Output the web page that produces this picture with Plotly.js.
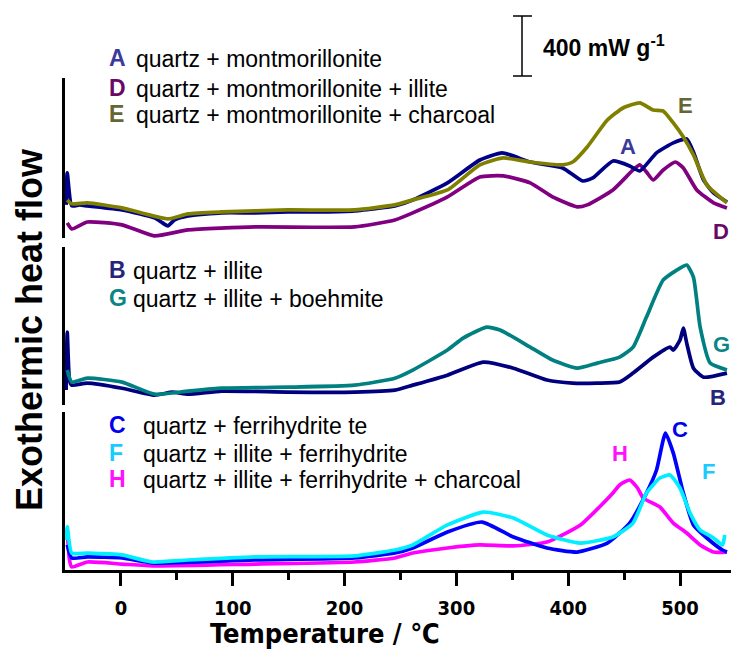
<!DOCTYPE html>
<html>
<head>
<meta charset="utf-8">
<script src="https://cdn.plot.ly/plotly-3.0.1.min.js"></script>
<style>html,body{margin:0;padding:0;background:#fff}#chart{width:731px;height:649px}</style>
</head>
<body>
<div id="chart"></div>
<script>
// Temperatures (°C) and heat flow (mW g-1, relative to panel baseline)
const T_A = [-49,-48,-44,-37,-30,1,30,36,42,48,60,90,120,149,180,209,232,245,261,292,321,341,366,395,413,422,440,455,464,479,494,506,512,521,530,542];
const A   = [228,449,221,228,221,193,138,110,83,124,152,173,173,179,179,186,207,221,262,380,538,587,524,483,393,414,531,497,462,587,656,683,593,400,311,248];
const T_E = [-48,-44,-30,1,42,60,90,149,209,245,261,292,321,342,366,395,404,417,435,449,464,476,485,494,503,512,524,542];
const E   = [262,235,242,207,131,166,179,193,193,228,262,331,504,552,524,504,524,628,814,897,932,883,876,794,697,573,366,242];
const T_D = [-48,-44,-30,1,30,60,120,209,245,261,292,321,342,366,386,408,417,440,458,464,470,476,485,496,503,515,530,542];
const D   = [104,62,110,90,14,55,76,76,124,173,283,421,428,380,283,214,228,331,469,504,455,400,469,524,483,331,242,207];
const T_B = [-49,-48,-46,-44,-30,1,30,46,60,90,149,209,245,261,292,324,351,381,404,426,446,458,476,491,494,500,503,506,512,521,542];
const B   = [104,504,173,138,152,117,69,90,76,97,90,90,104,138,207,297,255,173,152,152,159,221,331,400,380,449,531,428,255,193,221];
const T_G = [-48,-44,-30,1,30,60,90,149,209,245,261,292,306,327,339,366,386,408,426,446,458,470,485,500,506,512,518,527,542];
const G   = [242,159,186,159,76,97,117,124,138,186,242,380,462,538,518,400,311,255,290,331,400,607,863,945,966,883,538,290,242];
const T_C = [-48,-44,-30,1,30,120,209,245,261,292,323,351,381,408,435,455,470,479,487,494,503,512,524,538,542];
const C   = [173,83,90,83,48,69,83,117,152,262,331,228,152,124,186,324,531,690,945,807,531,311,221,138,124];
const T_F = [-49,-48,-44,-30,1,28,60,120,209,245,261,292,324,351,381,411,440,458,470,482,491,500,509,518,530,538,540];
const F   = [207,297,117,117,104,55,69,90,97,138,173,311,400,359,242,186,228,324,531,635,656,566,393,276,221,173,242];
const T_H = [-48,-46,-44,-30,1,30,120,209,245,261,292,321,351,381,411,428,440,446,455,462,467,482,494,506,518,530,542];
const H   = [276,69,21,55,41,28,41,55,83,117,152,173,166,193,311,435,531,587,621,566,497,435,324,255,173,124,124];

const xTicks = [0,100,200,300,400,500];
const legendLetters = ['A','D','E','B','G','C','F','H'];
const legendTexts = ['quartz + montmorillonite','quartz + montmorillonite + illite','quartz + montmorillonite + charcoal',
  'quartz + illite','quartz + illite + boehmite',
  'quartz + ferrihydrite te','quartz + illite + ferrihydrite','quartz + illite + ferrihydrite + charcoal'];
const scaleText = '400 mW g<sup>-1</sup>';

const lineCol = {A:'#000088',D:'#800080',E:'#808000',B:'#00007f',G:'#008080',C:'#0000ff',F:'#00eeff',H:'#ff00ff'};
const letCol  = {A:'#3a3a9a',D:'#680868',E:'#666633',B:'#25257a',G:'#0a8585',C:'#0000ee',F:'#18ccff',H:'#ff10ff'};

function tr(x,y,ya,k){return {x:x,y:y,yaxis:ya,xaxis:'x',type:'scatter',mode:'lines',
  line:{color:lineCol[k],width:3.7,shape:'spline',smoothing:0.5},hoverinfo:'skip',showlegend:false};}
const data = [
  tr(T_D,D,'y','D'), tr(T_A,A,'y','A'), tr(T_E,E,'y','E'),
  tr(T_B,B,'y2','B'), tr(T_G,G,'y2','G'),
  tr(T_H,H,'y3','H'), tr(T_C,C,'y3','C'), tr(T_F,F,'y3','F')
];

// pixel -> paper helpers (plot area: left 65, width 666, bottom 570, height 492)
const PX = x => (x-65)/666, PY = y => (570-y)/492;
const SANS = 'Liberation Sans, Arial, sans-serif';
const NARROW = 'DejaVu Sans Condensed, Liberation Sans Narrow, sans-serif';
const ann = [];
const legY = [57,87,113,269,297,424,452,478];
const legTx = [135,135,135,132,132,142,142,142];
legendLetters.forEach((L,i)=>{
  ann.push({xref:'paper',yref:'paper',x:PX(107),y:PY(legY[i]+1),xanchor:'left',yanchor:'middle',showarrow:false,
    text:L,font:{family:SANS,size:23,color:letCol[L],weight:'bold'}});
  ann.push({xref:'paper',yref:'paper',x:PX(legTx[i]-1),y:PY(legY[i]+2),xanchor:'left',yanchor:'middle',showarrow:false,
    text:legendTexts[i],font:{family:SANS,size:23,color:'#000'}});
});
const curveLab = {A:[628,145],E:[685,105],D:[721,230],G:[721,343],B:[718,396],C:[680,428],F:[708,470],H:[620,453]};
Object.keys(curveLab).forEach(k=>{
  ann.push({xref:'paper',yref:'paper',x:PX(curveLab[k][0]),y:PY(curveLab[k][1]+1),xanchor:'center',yanchor:'middle',showarrow:false,
    text:k,font:{family:SANS,size:22,color:letCol[k],weight:'bold'}});
});
ann.push({xref:'paper',yref:'paper',x:PX(541),y:PY(46),xanchor:'left',yanchor:'middle',showarrow:false,
  text:scaleText,font:{family:SANS,size:23,color:'#000',weight:'bold'}});
ann.push({xref:'paper',yref:'paper',x:PX(325),y:PY(633),xanchor:'center',yanchor:'middle',showarrow:false,
  text:'Temperature / ℃',font:{family:NARROW,size:27,color:'#000',weight:'bold'}});
ann.push({xref:'paper',yref:'paper',x:PX(29),y:PY(330),xanchor:'center',yanchor:'middle',showarrow:false,textangle:-90,
  text:'Exothermic heat flow',font:{family:SANS,size:36,color:'#000',weight:'bold'}});

const shapes = [
  {type:'line',xref:'paper',yref:'paper',x0:PX(522),x1:PX(522),y0:PY(16),y1:PY(76),line:{color:'#000',width:1.5}},
  {type:'line',xref:'paper',yref:'paper',x0:PX(513),x1:PX(532),y0:PY(16),y1:PY(16),line:{color:'#000',width:1.5}},
  {type:'line',xref:'paper',yref:'paper',x0:PX(513),x1:PX(532),y0:PY(76),y1:PY(76),line:{color:'#000',width:1.5}}
];

const yax = (dom,rng)=>({domain:dom,range:rng,anchor:'x',showline:true,linewidth:3,linecolor:'#000',
  showticklabels:false,ticks:'',showgrid:false,zeroline:false,fixedrange:true});
const layout = {
  width:731,height:649,margin:{l:65,r:0,t:78,b:79},
  paper_bgcolor:'#fff',plot_bgcolor:'#fff',showlegend:false,
  xaxis:{range:[-50,545.6],anchor:'y3',showline:true,linewidth:3,linecolor:'#000',showgrid:false,zeroline:false,
    tickvals:xTicks,ticktext:xTicks.map(String),ticks:'outside',ticklen:13,tickwidth:3,tickcolor:'#000',
    ticklabelstandoff:5,
    minor:{tickvals:[50,150,250,350,450],ticks:'outside',ticklen:7,tickwidth:3,tickcolor:'#000'},
    tickfont:{family:NARROW,size:20,color:'#000',weight:'bold'}},
  yaxis:yax([0.675,1],[0,1104]),
  yaxis2:yax([0.335,0.6565],[0,1090]),
  yaxis3:yax([0,0.321],[0,1090]),
  annotations:ann,shapes:shapes
};
Plotly.newPlot('chart',data,layout,{displayModeBar:false,staticPlot:true});
</script>
</body>
</html>
